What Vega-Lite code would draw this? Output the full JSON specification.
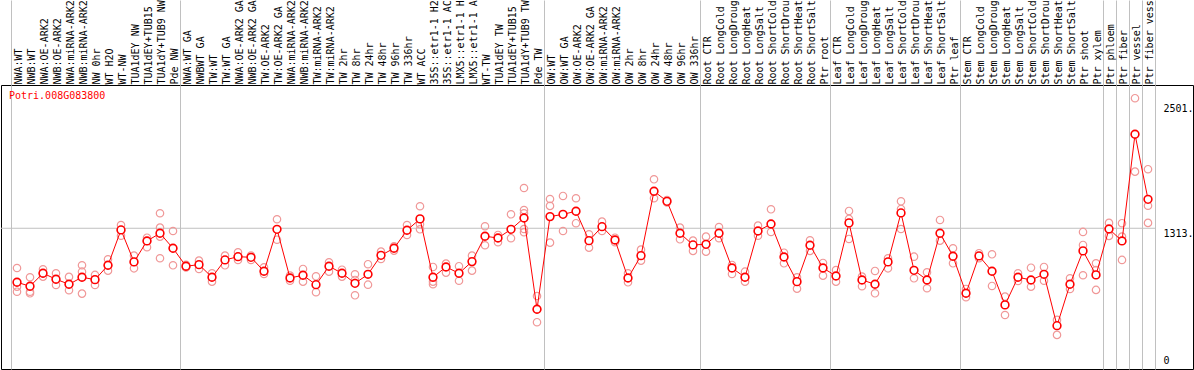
{
"$schema":"https://vega.github.io/schema/vega-lite/v6.json",
"autosize":"none",
"width":1192,"height":284,
"padding":{"left":1,"top":85,"right":1,"bottom":1},
"background":"white",
"config":{"view":{"stroke":"black","strokeWidth":1},"font":"DejaVu Sans Mono"},
"title":{"text":"Potri.008G083800","orient":"bottom","anchor":"start","frame":"group","offset":-278,"dx":8,"baseline":"top","color":"#ff0000","font":"DejaVu Sans Mono","fontSize":10,"fontWeight":"normal"},
"datasets":{
"means":[
{"idx":1,"sample":"NWA:WT","value":798},{"idx":2,"sample":"NWB:WT","value":760},{"idx":3,"sample":"NWA:OE-ARK2","value":884},{"idx":4,"sample":"NWB:OE-ARK2","value":827},{"idx":5,"sample":"NWA:miRNA-ARK2","value":779},{"idx":6,"sample":"NWB:miRNA-ARK2","value":846},{"idx":7,"sample":"NW 0hr","value":823},{"idx":8,"sample":"WT H2O","value":960},{"idx":9,"sample":"WT-NW","value":1297},{"idx":10,"sample":"TUA1dEY NW","value":992},{"idx":11,"sample":"TUA1dEY+TUB15 NW","value":1192},{"idx":12,"sample":"TUA1dY+TUB9 NW","value":1265},{"idx":13,"sample":"Pde NW","value":1122},
{"idx":14,"sample":"NWA:WT GA","value":951},{"idx":15,"sample":"NWBWT GA","value":966},{"idx":16,"sample":"TW:WT","value":846},{"idx":17,"sample":"TW:WT GA","value":1011},{"idx":18,"sample":"NWA:OE-ARK2 GA","value":1042},{"idx":19,"sample":"NWB:OE-ARK2 GA","value":1036},{"idx":20,"sample":"TW:OE-ARK2","value":903},{"idx":21,"sample":"TW:OE-ARK2 GA","value":1303},{"idx":22,"sample":"NWA:miRNA-ARK2 GA","value":839},{"idx":23,"sample":"NWB:miRNA-ARK2 GA","value":865},{"idx":24,"sample":"TW:miRNA-ARK2","value":775},{"idx":25,"sample":"TW:miRNA-ARK2 GA","value":951},{"idx":26,"sample":"TW 2hr","value":884},{"idx":27,"sample":"TW 8hr","value":788},{"idx":28,"sample":"TW 24hr","value":874},{"idx":29,"sample":"TW 48hr","value":1055},{"idx":30,"sample":"TW 96hr","value":1122},{"idx":31,"sample":"TW 336hr","value":1294},{"idx":32,"sample":"WT ACC","value":1402},{"idx":33,"sample":"35S::etr1-1 H2O","value":846},{"idx":34,"sample":"35S::etr1-1 ACC","value":944},{"idx":35,"sample":"LMX5::etr1-1 H2O","value":884},{"idx":36,"sample":"LMX5::etr1-1 ACC","value":995},{"idx":37,"sample":"WT-TW","value":1237},{"idx":38,"sample":"TUA1dEY TW","value":1220},{"idx":39,"sample":"TUA1dEY+TUB15 TW","value":1303},{"idx":40,"sample":"TUA1dY+TUB9 TW","value":1411},{"idx":41,"sample":"Pde TW","value":541},
{"idx":42,"sample":"OW:WT","value":1424},{"idx":43,"sample":"OW:WT GA","value":1446},{"idx":44,"sample":"OW:OE-ARK2","value":1475},{"idx":45,"sample":"OW:OE-ARK2 GA","value":1195},{"idx":46,"sample":"OW:miRNA-ARK2","value":1328},{"idx":47,"sample":"OW:miRNA-ARK2 GA","value":1201},{"idx":48,"sample":"OW 2hr","value":839},{"idx":49,"sample":"OW 8hr","value":1052},{"idx":50,"sample":"OW 24hr","value":1666},{"idx":51,"sample":"OW 48hr","value":1570},{"idx":52,"sample":"OW 96hr","value":1265},{"idx":53,"sample":"OW 336hr","value":1154},
{"idx":54,"sample":"Root CTR","value":1160},{"idx":55,"sample":"Root LongCold","value":1265},{"idx":56,"sample":"Root LongDrought","value":934},{"idx":57,"sample":"Root LongHeat","value":846},{"idx":58,"sample":"Root LongSalt","value":1287},{"idx":59,"sample":"Root ShortCold","value":1354},{"idx":60,"sample":"Root ShortDrought","value":1039},{"idx":61,"sample":"Root ShortHeat","value":804},{"idx":62,"sample":"Root ShortSalt","value":1151},{"idx":63,"sample":"Ptr root","value":934},
{"idx":64,"sample":"Leaf CTR","value":858},{"idx":65,"sample":"Leaf LongCold","value":1364},{"idx":66,"sample":"Leaf LongDrought","value":820},{"idx":67,"sample":"Leaf LongHeat","value":779},{"idx":68,"sample":"Leaf LongSalt","value":992},{"idx":69,"sample":"Leaf ShortCold","value":1459},{"idx":70,"sample":"Leaf ShortDrought","value":912},{"idx":71,"sample":"Leaf ShortHeat","value":820},{"idx":72,"sample":"Leaf ShortSalt","value":1265},{"idx":73,"sample":"Ptr leaf","value":1046},
{"idx":74,"sample":"Stem CTR","value":693},{"idx":75,"sample":"Stem LongCold","value":1049},{"idx":76,"sample":"Stem LongDrought","value":903},{"idx":77,"sample":"Stem LongHeat","value":582},{"idx":78,"sample":"Stem LongSalt","value":846},{"idx":79,"sample":"Stem ShortCold","value":820},{"idx":80,"sample":"Stem ShortDrought","value":874},{"idx":81,"sample":"Stem ShortHeat","value":384},{"idx":82,"sample":"Stem ShortSalt","value":779},{"idx":83,"sample":"Ptr shoot","value":1097},{"idx":84,"sample":"Ptr xylem","value":868},{"idx":85,"sample":"Ptr phloem","value":1306},{"idx":86,"sample":"Ptr fiber","value":1192},{"idx":87,"sample":"Ptr vessel","value":2209},{"idx":88,"sample":"Ptr fiber vessel","value":1589}
],
"reps":[
{"idx":1,"sample":"NWA:WT","value":934},{"idx":1,"sample":"NWA:WT","value":756},{"idx":1,"sample":"NWA:WT","value":708},
{"idx":2,"sample":"NWB:WT","value":846},{"idx":2,"sample":"NWB:WT","value":708},{"idx":2,"sample":"NWB:WT","value":693},
{"idx":3,"sample":"NWA:OE-ARK2","value":922},{"idx":3,"sample":"NWA:OE-ARK2","value":884},{"idx":3,"sample":"NWA:OE-ARK2","value":852},
{"idx":4,"sample":"NWB:OE-ARK2","value":884},{"idx":4,"sample":"NWB:OE-ARK2","value":827},{"idx":4,"sample":"NWB:OE-ARK2","value":772},
{"idx":5,"sample":"NWA:miRNA-ARK2","value":849},{"idx":5,"sample":"NWA:miRNA-ARK2","value":779},{"idx":5,"sample":"NWA:miRNA-ARK2","value":722},
{"idx":6,"sample":"NWB:miRNA-ARK2","value":960},{"idx":6,"sample":"NWB:miRNA-ARK2","value":899},{"idx":6,"sample":"NWB:miRNA-ARK2","value":690},
{"idx":7,"sample":"NW 0hr","value":868},{"idx":7,"sample":"NW 0hr","value":823},{"idx":7,"sample":"NW 0hr","value":772},
{"idx":8,"sample":"WT H2O","value":1017},{"idx":8,"sample":"WT H2O","value":960},{"idx":8,"sample":"WT H2O","value":909},
{"idx":9,"sample":"WT-NW","value":1344},{"idx":9,"sample":"WT-NW","value":1297},{"idx":9,"sample":"WT-NW","value":1242},
{"idx":10,"sample":"TUA1dEY NW","value":1052},{"idx":10,"sample":"TUA1dEY NW","value":992},{"idx":10,"sample":"TUA1dEY NW","value":931},
{"idx":11,"sample":"TUA1dEY+TUB15 NW","value":1223},{"idx":11,"sample":"TUA1dEY+TUB15 NW","value":1192},{"idx":11,"sample":"TUA1dEY+TUB15 NW","value":1132},
{"idx":12,"sample":"TUA1dY+TUB9 NW","value":1456},{"idx":12,"sample":"TUA1dY+TUB9 NW","value":1319},{"idx":12,"sample":"TUA1dY+TUB9 NW","value":1233},{"idx":12,"sample":"TUA1dY+TUB9 NW","value":1027},
{"idx":13,"sample":"Pde NW","value":1287},{"idx":13,"sample":"Pde NW","value":1122},{"idx":13,"sample":"Pde NW","value":960},
{"idx":14,"sample":"NWA:WT GA","value":965},{"idx":14,"sample":"NWA:WT GA","value":940},
{"idx":15,"sample":"NWBWT GA","value":1004},{"idx":15,"sample":"NWBWT GA","value":925},
{"idx":16,"sample":"TW:WT","value":884},{"idx":16,"sample":"TW:WT","value":804},
{"idx":17,"sample":"TW:WT GA","value":1052},{"idx":17,"sample":"TW:WT GA","value":960},
{"idx":18,"sample":"NWA:OE-ARK2 GA","value":1084},{"idx":18,"sample":"NWA:OE-ARK2 GA","value":1011},
{"idx":19,"sample":"NWB:OE-ARK2 GA","value":1052},{"idx":19,"sample":"NWB:OE-ARK2 GA","value":1011},
{"idx":20,"sample":"TW:OE-ARK2","value":941},{"idx":20,"sample":"TW:OE-ARK2","value":877},
{"idx":21,"sample":"TW:OE-ARK2 GA","value":1399},{"idx":21,"sample":"TW:OE-ARK2 GA","value":1204},
{"idx":22,"sample":"NWA:miRNA-ARK2 GA","value":861},{"idx":22,"sample":"NWA:miRNA-ARK2 GA","value":813},
{"idx":23,"sample":"NWB:miRNA-ARK2 GA","value":925},{"idx":23,"sample":"NWB:miRNA-ARK2 GA","value":804},
{"idx":24,"sample":"TW:miRNA-ARK2","value":855},{"idx":24,"sample":"TW:miRNA-ARK2","value":703},
{"idx":25,"sample":"TW:miRNA-ARK2 GA","value":989},{"idx":25,"sample":"TW:miRNA-ARK2 GA","value":899},
{"idx":26,"sample":"TW 2hr","value":918},{"idx":26,"sample":"TW 2hr","value":852},
{"idx":27,"sample":"TW 8hr","value":874},{"idx":27,"sample":"TW 8hr","value":820},{"idx":27,"sample":"TW 8hr","value":674},
{"idx":28,"sample":"TW 24hr","value":970},{"idx":28,"sample":"TW 24hr","value":775},
{"idx":29,"sample":"TW 48hr","value":1090},{"idx":29,"sample":"TW 48hr","value":1020},
{"idx":30,"sample":"TW 96hr","value":1140},{"idx":30,"sample":"TW 96hr","value":1100},
{"idx":31,"sample":"TW 336hr","value":1344},{"idx":31,"sample":"TW 336hr","value":1249},
{"idx":32,"sample":"WT ACC","value":1523},{"idx":32,"sample":"WT ACC","value":1351},{"idx":32,"sample":"WT ACC","value":1303},
{"idx":33,"sample":"35S::etr1-1 H2O","value":944},{"idx":33,"sample":"35S::etr1-1 H2O","value":804},{"idx":33,"sample":"35S::etr1-1 H2O","value":779},
{"idx":34,"sample":"35S::etr1-1 ACC","value":976},{"idx":34,"sample":"35S::etr1-1 ACC","value":890},
{"idx":35,"sample":"LMX5::etr1-1 H2O","value":951},{"idx":35,"sample":"LMX5::etr1-1 H2O","value":813},
{"idx":36,"sample":"LMX5::etr1-1 ACC","value":1052},{"idx":36,"sample":"LMX5::etr1-1 ACC","value":909},
{"idx":37,"sample":"WT-TW","value":1332},{"idx":37,"sample":"WT-TW","value":1151},
{"idx":38,"sample":"TUA1dEY TW","value":1249},{"idx":38,"sample":"TUA1dEY TW","value":1180},
{"idx":39,"sample":"TUA1dEY+TUB15 TW","value":1446},{"idx":39,"sample":"TUA1dEY+TUB15 TW","value":1218},
{"idx":40,"sample":"TUA1dY+TUB9 TW","value":1697},{"idx":40,"sample":"TUA1dY+TUB9 TW","value":1487},{"idx":40,"sample":"TUA1dY+TUB9 TW","value":1456},{"idx":40,"sample":"TUA1dY+TUB9 TW","value":1306},{"idx":40,"sample":"TUA1dY+TUB9 TW","value":1275},
{"idx":41,"sample":"Pde TW","value":667},{"idx":41,"sample":"Pde TW","value":541},{"idx":41,"sample":"Pde TW","value":417},
{"idx":42,"sample":"OW:WT","value":1592},{"idx":42,"sample":"OW:WT","value":1526},{"idx":42,"sample":"OW:WT","value":1176},
{"idx":43,"sample":"OW:WT GA","value":1621},{"idx":43,"sample":"OW:WT GA","value":1287},
{"idx":44,"sample":"OW:OE-ARK2","value":1599},{"idx":44,"sample":"OW:OE-ARK2","value":1361},
{"idx":45,"sample":"OW:OE-ARK2 GA","value":1256},{"idx":45,"sample":"OW:OE-ARK2 GA","value":1128},
{"idx":46,"sample":"OW:miRNA-ARK2","value":1376},{"idx":46,"sample":"OW:miRNA-ARK2","value":1287},
{"idx":47,"sample":"OW:miRNA-ARK2 GA","value":1223},{"idx":47,"sample":"OW:miRNA-ARK2 GA","value":1180},
{"idx":48,"sample":"OW 2hr","value":884},{"idx":48,"sample":"OW 2hr","value":798},
{"idx":49,"sample":"OW 8hr","value":1109},{"idx":49,"sample":"OW 8hr","value":1004},
{"idx":50,"sample":"OW 24hr","value":1780},{"idx":50,"sample":"OW 24hr","value":1599},
{"idx":51,"sample":"OW 48hr","value":1583},{"idx":51,"sample":"OW 48hr","value":1560},
{"idx":52,"sample":"OW 96hr","value":1319},{"idx":52,"sample":"OW 96hr","value":1208},
{"idx":53,"sample":"OW 336hr","value":1195},{"idx":53,"sample":"OW 336hr","value":1097},
{"idx":54,"sample":"Root CTR","value":1233},{"idx":54,"sample":"Root CTR","value":1090},
{"idx":55,"sample":"Root LongCold","value":1325},{"idx":55,"sample":"Root LongCold","value":1218},
{"idx":56,"sample":"Root LongDrought","value":963},{"idx":56,"sample":"Root LongDrought","value":877},
{"idx":57,"sample":"Root LongHeat","value":899},{"idx":57,"sample":"Root LongHeat","value":804},
{"idx":58,"sample":"Root LongSalt","value":1338},{"idx":58,"sample":"Root LongSalt","value":1242},
{"idx":59,"sample":"Root ShortCold","value":1494},{"idx":59,"sample":"Root ShortCold","value":1278},
{"idx":60,"sample":"Root ShortDrought","value":1080},{"idx":60,"sample":"Root ShortDrought","value":979},
{"idx":61,"sample":"Root ShortHeat","value":846},{"idx":61,"sample":"Root ShortHeat","value":737},
{"idx":62,"sample":"Root ShortSalt","value":1198},{"idx":62,"sample":"Root ShortSalt","value":1097},
{"idx":63,"sample":"Ptr root","value":982},{"idx":63,"sample":"Ptr root","value":861},
{"idx":64,"sample":"Leaf CTR","value":915},{"idx":64,"sample":"Leaf CTR","value":804},
{"idx":65,"sample":"Leaf LongCold","value":1478},{"idx":65,"sample":"Leaf LongCold","value":1402},{"idx":65,"sample":"Leaf LongCold","value":1211},
{"idx":66,"sample":"Leaf LongDrought","value":852},{"idx":66,"sample":"Leaf LongDrought","value":760},
{"idx":67,"sample":"Leaf LongHeat","value":906},{"idx":67,"sample":"Leaf LongHeat","value":693},
{"idx":68,"sample":"Leaf LongSalt","value":1027},{"idx":68,"sample":"Leaf LongSalt","value":931},
{"idx":69,"sample":"Leaf ShortCold","value":1570},{"idx":69,"sample":"Leaf ShortCold","value":1497},{"idx":69,"sample":"Leaf ShortCold","value":1306},
{"idx":70,"sample":"Leaf ShortDrought","value":1042},{"idx":70,"sample":"Leaf ShortDrought","value":836},
{"idx":71,"sample":"Leaf ShortHeat","value":893},{"idx":71,"sample":"Leaf ShortHeat","value":741},
{"idx":72,"sample":"Leaf ShortSalt","value":1392},{"idx":72,"sample":"Leaf ShortSalt","value":1195},
{"idx":73,"sample":"Ptr leaf","value":1122},{"idx":73,"sample":"Ptr leaf","value":979},
{"idx":74,"sample":"Stem CTR","value":734},{"idx":74,"sample":"Stem CTR","value":655},
{"idx":75,"sample":"Stem LongCold","value":1075},{"idx":75,"sample":"Stem LongCold","value":1027},
{"idx":76,"sample":"Stem LongDrought","value":1065},{"idx":76,"sample":"Stem LongDrought","value":763},
{"idx":77,"sample":"Stem LongHeat","value":661},{"idx":77,"sample":"Stem LongHeat","value":486},
{"idx":78,"sample":"Stem LongSalt","value":884},{"idx":78,"sample":"Stem LongSalt","value":810},
{"idx":79,"sample":"Stem ShortCold","value":937},{"idx":79,"sample":"Stem ShortCold","value":756},
{"idx":80,"sample":"Stem ShortDrought","value":944},{"idx":80,"sample":"Stem ShortDrought","value":813},
{"idx":81,"sample":"Stem ShortHeat","value":439},{"idx":81,"sample":"Stem ShortHeat","value":296},
{"idx":82,"sample":"Stem ShortSalt","value":836},{"idx":82,"sample":"Stem ShortSalt","value":734},
{"idx":83,"sample":"Ptr shoot","value":1278},{"idx":83,"sample":"Ptr shoot","value":1154},{"idx":83,"sample":"Ptr shoot","value":865},
{"idx":84,"sample":"Ptr xylem","value":979},{"idx":84,"sample":"Ptr xylem","value":915},{"idx":84,"sample":"Ptr xylem","value":725},
{"idx":85,"sample":"Ptr phloem","value":1364},{"idx":85,"sample":"Ptr phloem","value":1240},
{"idx":86,"sample":"Ptr fiber","value":1361},{"idx":86,"sample":"Ptr fiber","value":1233},{"idx":86,"sample":"Ptr fiber","value":1011},
{"idx":87,"sample":"Ptr vessel","value":2553},{"idx":87,"sample":"Ptr vessel","value":1853},
{"idx":88,"sample":"Ptr fiber vessel","value":1876},{"idx":88,"sample":"Ptr fiber vessel","value":1528},{"idx":88,"sample":"Ptr fiber vessel","value":1364}
],
"levels":[{"level":1313}]
},
"layer":[
{"data":{"name":"levels"},"mark":{"type":"rule","color":"#c0c0c0","strokeWidth":1,"strokeDash":[0,38,1154,200]},
"encoding":{"y":{"field":"level","type":"quantitative","title":null}}},
{"data":{"name":"reps"},"mark":{"type":"point","shape":"circle","filled":false,"size":55,"stroke":"#f09898","strokeWidth":1.2,"opacity":1},
"encoding":{
"x":{"field":"sample","type":"nominal","title":null,"sort":{"field":"idx","op":"min"},
"scale":{"type":"band","paddingInner":0,"paddingOuter":0,"range":[9.5,1153.5]},
"axis":{"orient":"top","title":null,"domain":false,"labelAngle":-90,"labelAlign":"left","labelBaseline":"middle","labelFont":"DejaVu Sans Mono","labelFontSize":10,"labelColor":"black","labelPadding":-84,"labelOffset":1,"labelOverlap":false,"labelLimit":300,"labelBound":false,
"ticks":true,"tickSize":85,"tickBand":"extent","tickWidth":1,
"tickColor":{"condition":{"test":"datum.index == -1 || indexof(['Pde NW','Pde TW','OW 336hr','Ptr root','Ptr leaf','Ptr xylem','Ptr phloem','Ptr fiber','Ptr vessel','Ptr fiber vessel'], datum.value) >= 0","value":"#c0c0c0"},"value":"transparent"},
"grid":true,"gridWidth":1,
"gridColor":{"condition":{"test":"datum.index == -1 || indexof(['Pde NW','Pde TW','OW 336hr','Ptr root','Ptr leaf','Ptr xylem','Ptr phloem','Ptr fiber','Ptr vessel','Ptr fiber vessel'], datum.value) >= 0","value":"#c0c0c0"},"value":"transparent"}}},
"y":{"field":"value","type":"quantitative","title":null,
"scale":{"domain":[-29,2679],"nice":false,"zero":false},
"axis":{"orient":"right","offset":-30,"title":null,"domain":false,"ticks":false,"tickSize":0,"labelPadding":0,"values":[0,1313,2501],"labelExpr":"datum.value == 0 ? '0' : datum.value + '.'","labelAlign":"left","labelBaseline":{"condition":{"test":"datum.value == 0","value":"bottom"},"value":"top"},"labelFont":"DejaVu Sans Mono","labelFontSize":10,"labelColor":"black","grid":false}}}},
{"data":{"name":"means"},"mark":{"type":"line","color":"#ff0000","strokeWidth":1},
"encoding":{"x":{"field":"sample","type":"nominal","title":null,"sort":{"field":"idx","op":"min"}},"y":{"field":"value","type":"quantitative","title":null}}},
{"data":{"name":"means"},"mark":{"type":"point","shape":"circle","filled":false,"fill":"white","fillOpacity":1,"size":60,"stroke":"#ff0000","strokeWidth":1.6,"opacity":1},
"encoding":{"x":{"field":"sample","type":"nominal","title":null,"sort":{"field":"idx","op":"min"}},"y":{"field":"value","type":"quantitative","title":null}}}
]
}
